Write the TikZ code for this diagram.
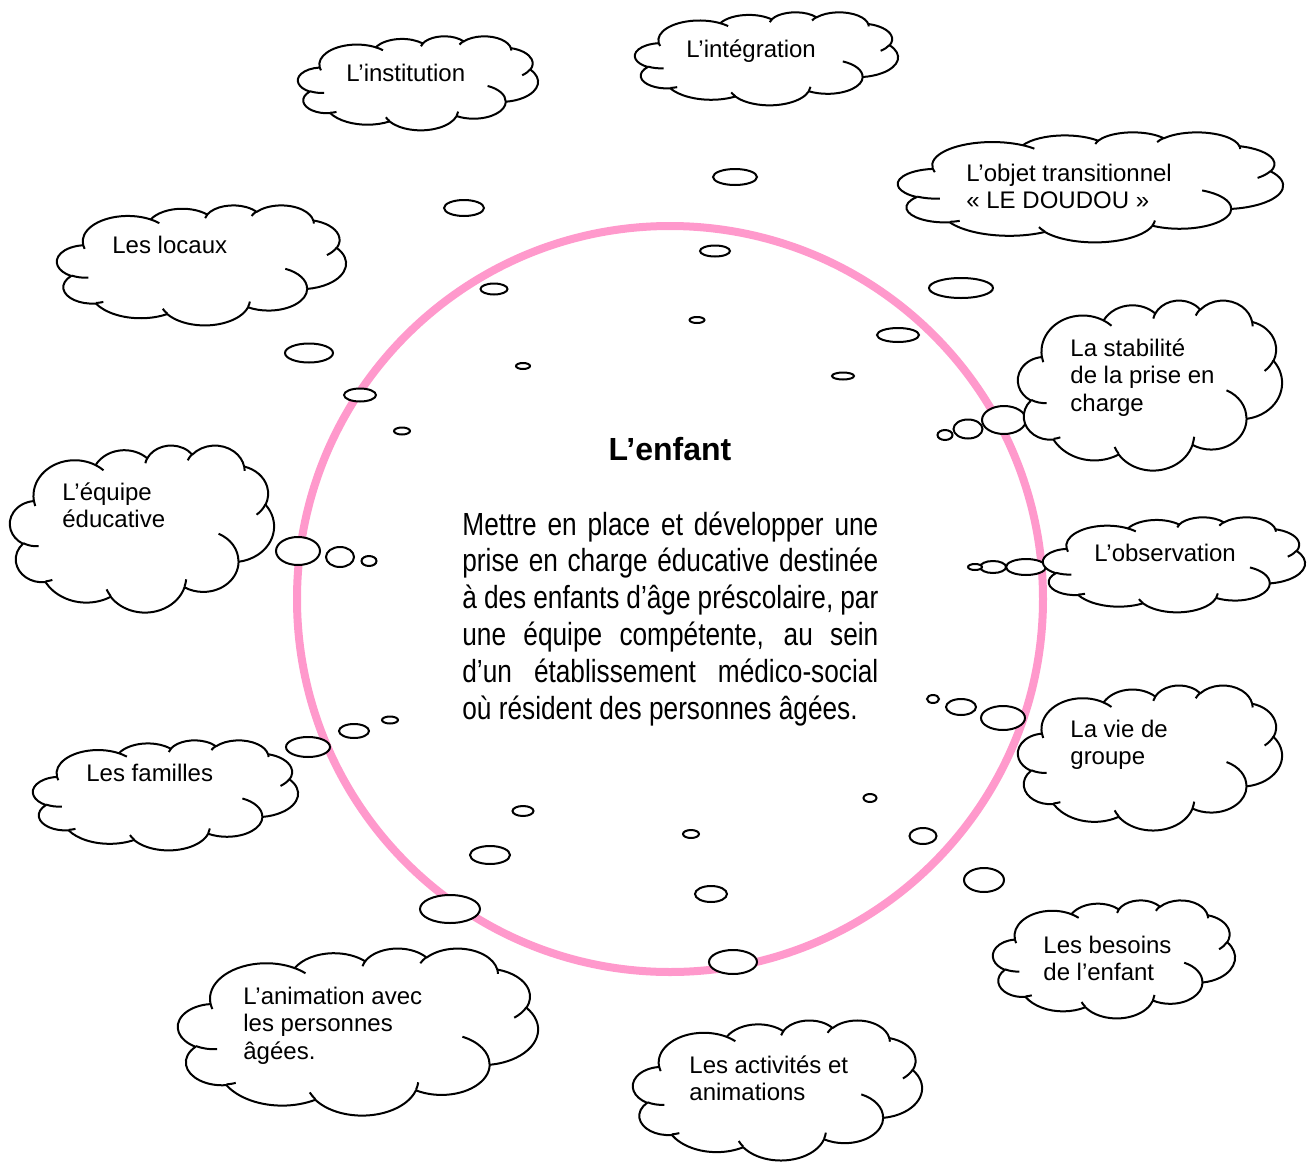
\documentclass[tikz,border=0pt]{standalone}
\usepackage{fontspec}
\setmainfont{Liberation Sans}
\newfontfamily\narrowfont[FakeStretch=0.82]{Liberation Sans}
\definecolor{ringpink}{HTML}{FF99CC}

% arc of a cloud outline, angles given as seen from the centre
\newcommand\wcarc[4]{arc[x radius=#1, y radius=#2,
  start angle={(#3)+asin(sin(atan2((#1)*sin(#3),(#2)*cos(#3))-(#3)))},
  end angle={(#3)+(#4)+asin(sin(atan2((#1)*sin((#3)+(#4)),(#2)*cos((#3)+(#4)))-(#3)-(#4)))}]}

\tikzset{
  wcloud/.pic={
    \draw[cloudline,fill=white] (3.9,14.37)
      \wcarc{6.753}{9.19}{-190.4875}{123.7805}
      \wcarc{5.333}{7.267}{-144.1024}{89.9452}
      \wcarc{4.365}{5.945}{-145.8079}{99.723}
      \wcarc{4.857}{6.595}{-130.9861}{117.2417}
      \wcarc{5.333}{7.273}{-78.7089}{109.0269}
      \wcarc{6.775}{9.22}{-46.2673}{130.269}
      \wcarc{5.785}{7.867}{0.625}{114.0333}
      \wcarc{6.752}{9.215}{22.4516}{115.1726}
      \wcarc{7.72}{10.543}{66.2426}{75.711}
      \wcarc{4.36}{5.918}{-274.9421}{146.7356}
      \wcarc{4.345}{5.945}{-246.8285}{152.5189} -- cycle;
    % inner curls
    \draw[cloudline]
      (4.693,26.177) \wcarc{4.345}{5.945}{86.742}{26.4295}
      (6.928,34.899) \wcarc{4.36}{5.918}{73.6105}{11.4475}
      (16.478,39.09) \wcarc{6.752}{9.215}{137.6242}{14.0811}
      (28.827,34.751) \wcarc{6.752}{9.215}{6.4533}{15.9984}
      (34.129,22.954) \wcarc{5.785}{7.867}{-70.2924}{70.9174}
      (41.798,15.354) \wcarc{5.333}{7.273}{30.318}{27.7515}
      (38.324,5.426) \wcarc{4.857}{6.595}{-13.7443}{14.8589}
      (29.078,3.952) \wcarc{4.857}{6.595}{-149.1815}{18.1954}
      (22.141,4.72) \wcarc{4.365}{5.945}{-163.4943}{17.6864}
      (14,5.192) \wcarc{6.753}{9.19}{-66.707}{12.3194}
      (4.127,15.789) \wcarc{6.753}{9.19}{157.6544}{11.8582};
  }
}
\newcommand\cloudat[4]{\pic[xscale=#3/43.2,yscale=#4/43.2] at (#1,#2) {wcloud};}

\begin{document}
\begin{tikzpicture}[x=0.5pt,y=-0.5pt,
    cloudline/.style={draw=black,line width=1pt,line join=round},
    bubble/.style={draw=black,fill=white,line width=1pt},
    cloudtext/.style={anchor=base west,inner sep=0pt,align=left,
      font=\fontsize{12}{13.8}\selectfont},
    ring/.style={draw=ringpink,line width=4pt}]
  \fill[white] (0,0) rectangle (1308,1162);
  \useasboundingbox (0,0) rectangle (1308,1162);

  \draw[ring] (670,599) circle [radius=373];

  % thought bubbles
  \foreach \x/\y/\a/\b in {735/177/22/8, 464/208/20/8, 715/251/15/5.5, 494/289/13.5/5.5,
      961/288/32/10, 697/320/7.5/3, 898/335/21/7, 309/353/24/9.5, 523/366/7/3,
      843/376/11/3.5, 360/395/16/6.5, 402/431/8/3.5,
      1004/420/22/14, 968/429/14.5/9.5, 945/435/7.5/5,
      298/551/22/14, 340/557/14/10, 369/561/7.5/5,
      1026/567/20/8, 993/567/13/6, 975/567/7/3,
      933/699/6/4, 961/707/15/8, 1003/718/22/12,
      390/720/8/3.5, 354/731/15/7, 308/747/22/10,
      523/811/10.5/5, 870/798/6.5/4, 691/834/8/4, 923/836/13.5/8,
      490/855/20/9, 984/880/20/12, 711/894/16/8, 450/909/30/14, 733/962/24/12}
    \draw[bubble] (\x,\y) ellipse [x radius=\a, y radius=\b];

  % clouds
  \cloudat{298}{36}{240}{94}
  \cloudat{635}{12}{263}{93}
  \cloudat{898}{132}{385}{110}
  \cloudat{57}{205}{289}{120}
  \cloudat{1018}{300}{264}{170}
  \cloudat{10}{445}{264}{167}
  \cloudat{1043}{517}{262}{95}
  \cloudat{1018}{685}{264}{145}
  \cloudat{33}{740}{265}{110}
  \cloudat{993}{900}{242}{118}
  \cloudat{178}{948}{360}{167}
  \cloudat{633}{1020}{289}{140}

  % base of a multi-line label = its last line
  \node[cloudtext] (institution) at (346,81) {L’institution};
  \node[cloudtext] (integration) at (686,57) {L’intégration};
  \node[cloudtext] (doudou) at (966,208.6) {L’objet transitionnel\\«~LE DOUDOU~»};
  \node[cloudtext] (locaux) at (112,253) {Les locaux};
  \node[cloudtext] (stabilite) at (1070,411.2) {La stabilité\\de la prise en\\charge};
  \node[cloudtext] (equipe) at (62,527.6) {L’équipe\\éducative};
  \node[cloudtext] (observation) at (1094,561) {L’observation};
  \node[cloudtext] (groupe) at (1070,764.6) {La vie de\\groupe};
  \node[cloudtext] (familles) at (86,781) {Les familles};
  \node[cloudtext] (besoins) at (1043,980.6) {Les besoins\\de l’enfant};
  \node[cloudtext] (animation) at (243,1059.2) {L’animation avec\\les personnes\\âgées.};
  \node[cloudtext] (activites) at (689,1100.6) {Les activités et\\animations};

  \node[inner sep=0pt,anchor=base,font=\fontsize{16}{18.4}\selectfont\bfseries]
    (enfant) at (670,460) {L’enfant};
  \node[inner sep=0pt,anchor=base west,text width=208pt,align=justify,
      font=\fontsize{16}{18.4}\selectfont\narrowfont]
    (projet) at (462,535) {\tolerance=10000\hyphenpenalty=10000
      Mettre en place et développer une\linebreak
      prise en charge éducative destinée\linebreak
      à des enfants d’âge préscolaire, par\linebreak
      une équipe compétente, au sein\linebreak
      d’un établissement médico-social\linebreak
      où résident des personnes âgées.};
\end{tikzpicture}
\end{document}
